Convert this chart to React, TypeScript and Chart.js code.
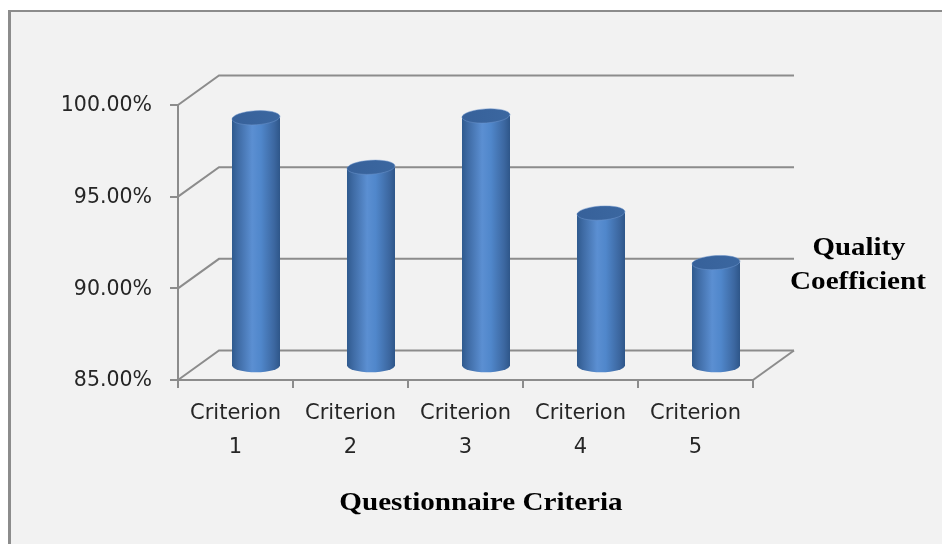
import React, { useEffect, useRef } from "react";
import { Chart, registerables } from "chart.js";

Chart.register(...registerables);

const categories = ["Criterion 1", "Criterion 2", "Criterion 3", "Criterion 4", "Criterion 5"];
const qualityValues = [98.5, 95.8, 98.6, 93.3, 90.6];
const yTickValues = [85, 90, 95, 100];
const yAxisTitle = ["Quality", "Coefficient"];
const xAxisTitle = "Questionnaire Criteria";

const DX = 41;
const DY = -29.5;
const LINE = "#8c8c8c";

const threeD = {
  id: "threeD",
  beforeDatasetsDraw(chart: any) {
    const { ctx, chartArea } = chart;
    const ys = chart.scales.y;
    ctx.save();
    ctx.strokeStyle = LINE;
    ctx.lineWidth = 2;
    for (const v of yTickValues) {
      const y = ys.getPixelForValue(v);
      ctx.beginPath();
      ctx.moveTo(chartArea.left, y);
      ctx.lineTo(chartArea.left + DX, y + DY);
      ctx.lineTo(chartArea.right + DX, y + DY);
      ctx.stroke();
    }
    const yb = ys.getPixelForValue(yTickValues[0]);
    ctx.beginPath();
    ctx.moveTo(chartArea.right, yb);
    ctx.lineTo(chartArea.right + DX, yb + DY);
    ctx.stroke();
    ctx.restore();
  },
  afterDatasetsDraw(chart: any) {
    const { ctx } = chart;
    const ys = chart.scales.y;
    const meta = chart.getDatasetMeta(0);
    const base = ys.getPixelForValue(yTickValues[0]) + DY / 2;
    meta.data.forEach((bar: any) => {
      const cx = bar.x + DX / 2;
      const top = bar.y + DY / 2;
      const rx = 24;
      const ry = 7;
      ctx.save();
      const g = ctx.createLinearGradient(cx - rx, 0, cx + rx, 0);
      g.addColorStop(0, "#2f5a8e");
      g.addColorStop(0.12, "#3e6aa3");
      g.addColorStop(0.42, "#5b8fd2");
      g.addColorStop(0.6, "#5087cb");
      g.addColorStop(0.88, "#3c67a0");
      g.addColorStop(1, "#2e5689");
      ctx.beginPath();
      ctx.moveTo(cx - rx, top);
      ctx.lineTo(cx - rx, base);
      ctx.ellipse(cx, base, rx, ry, 0, Math.PI, 0, true);
      ctx.lineTo(cx + rx, top);
      ctx.closePath();
      ctx.fillStyle = g;
      ctx.fill();
      // top cap
      const tg = ctx.createLinearGradient(cx - rx, top, cx + rx, top);
      tg.addColorStop(0, "#37619a");
      tg.addColorStop(1, "#3b67a0");
      ctx.beginPath();
      ctx.ellipse(cx, top, rx, ry, -0.06, 0, Math.PI * 2);
      ctx.fillStyle = tg;
      ctx.fill();
      ctx.strokeStyle = "rgba(110,150,205,0.5)";
      ctx.lineWidth = 1;
      ctx.stroke();
      ctx.restore();
    });
  },
  afterDraw(chart: any) {
    const { ctx } = chart;
    ctx.save();
    ctx.fillStyle = "#000";
    ctx.textAlign = "center";
    ctx.textBaseline = "middle";
    ctx.font = "bold 26px 'Liberation Serif'";
    const drawStretched = (t: string, x: number, y: number, sx: number) => {
      ctx.save();
      ctx.translate(x, y);
      ctx.scale(sx, 1);
      ctx.fillText(t, 0, 0);
      ctx.restore();
    };
    drawStretched(yAxisTitle[0], 859, 248, 1.11);
    drawStretched(yAxisTitle[1], 858, 282, 1.12);
    drawStretched(xAxisTitle, 481, 503, 1.12);
    ctx.restore();
  },
};

export default function App() {
  const ref = useRef<HTMLCanvasElement | null>(null);
  useEffect(() => {
    if (!ref.current) return;
    const chart = new Chart(ref.current, {
      type: "bar",
      data: {
        labels: categories,
        datasets: [
          {
            data: qualityValues,
            backgroundColor: "rgba(0,0,0,0)",
            borderWidth: 0,
            base: yTickValues[0],
          },
        ],
      },
      options: {
        responsive: false,
        animation: false,
        layout: { padding: { left: 0, top: 105, right: 189, bottom: 70 } },
        plugins: { legend: { display: false }, tooltip: { enabled: false } },
        scales: {
          x: {
            type: "category",
            offset: true,
            grid: {
              display: true,
              offset: true,
              drawOnChartArea: false,
              drawTicks: true,
              tickLength: 8,
              color: LINE,
              lineWidth: 2,
            },
            border: { display: true, color: LINE, width: 2 },
            ticks: {
              color: "#262626",
              font: { family: "DejaVu Sans", size: 21, lineHeight: 1.62 },
              padding: 9,
              maxRotation: 0,
              autoSkip: false,
              callback: (_v: any, i: number) => categories[i].split(" "),
            },
            afterFit: (s: any) => {
              s.height = 544 - 380 - 70;
            },
          },
          y: {
            min: yTickValues[0],
            max: yTickValues[yTickValues.length - 1],
            afterBuildTicks: (s: any) => {
              s.ticks = yTickValues.map((v) => ({ value: v }));
            },
            grid: {
              drawOnChartArea: false,
              drawTicks: true,
              tickLength: 8,
              color: LINE,
              lineWidth: 2,
            },
            border: { display: true, color: LINE, width: 2 },
            ticks: {
              color: "#262626",
              padding: 18,
              labelOffset: 1,
              font: { family: "DejaVu Sans", size: 20.5 },
              callback: (v: any) => Number(v).toFixed(2) + "%",
            },
            afterFit: (s: any) => {
              s.width = 178;
            },
          },
        },
      },
      plugins: [threeD],
    });
    return () => chart.destroy();
  }, []);

  return (
    <div style={{ position: "fixed", left: 0, top: 0, width: 942, height: 544, background: "#fff", overflow: "hidden" }}>
      <div
        style={{
          position: "absolute",
          left: 8,
          top: 10,
          right: 0,
          bottom: 0,
          borderLeft: "3px solid #8c8c8c",
          borderTop: "2px solid #8c8c8c",
          background: "#f2f2f2",
        }}
      />
      <canvas ref={ref} width={942} height={544} style={{ position: "absolute", left: 0, top: 0, width: 942, height: 544 }} />
    </div>
  );
}
